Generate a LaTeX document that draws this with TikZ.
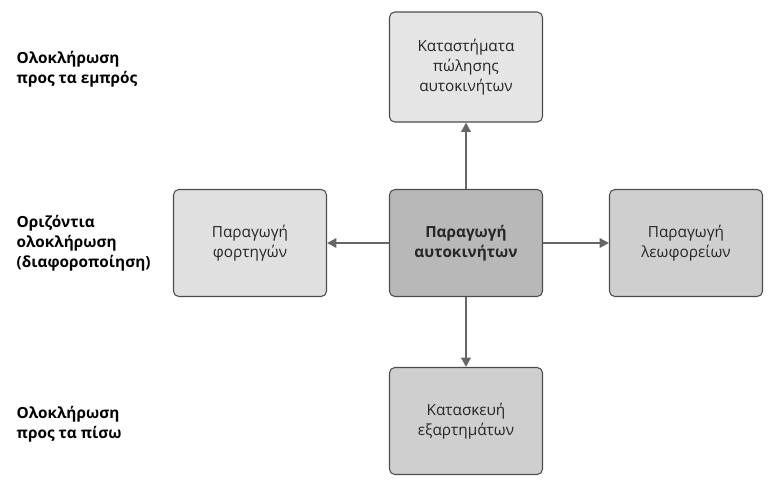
\documentclass[tikz,border=0pt]{standalone}
\usepackage{fontspec}
\setmainfont{Open Sans}
\usetikzlibrary{arrows.meta}
\begin{document}
\begin{tikzpicture}[x=0.75pt,y=-0.75pt,
    box/.style={draw=black!70, rounded corners=4pt, line width=0.8pt, minimum width=153*0.75pt,
      minimum height=107*0.75pt, align=center, font=\fontsize{11.5}{15}\selectfont, text=black!85},
    side/.style={anchor=west, align=left, font=\bfseries\fontsize{11.5}{15}\selectfont},
    link/.style={draw=black!60, line width=2pt, -{Triangle[length=7pt,width=7pt]}}]
  \useasboundingbox (0,0) rectangle (781,483);
  \node[box, fill=black!28, font=\bfseries\fontsize{11.5}{15}\selectfont] (car) at (466,243) {Παραγωγή\\αυτοκινήτων};
  \node[box, fill=black!10, minimum height=110*0.75pt] (shop) at (466,67) {Καταστήματα\\πώλησης\\αυτοκινήτων};
  \node[box, fill=black!12] (truck) at (250,243) {Παραγωγή\\φορτηγών};
  \node[box, fill=black!19] (bus) at (686,243) {Παραγωγή\\λεωφορείων};
  \node[box, fill=black!19] (parts) at (466,421) {Κατασκευή\\εξαρτημάτων};
  \draw[link] (car) -- (shop);
  \draw[link] (car) -- (truck);
  \draw[link] (car) -- (bus);
  \draw[link] (car) -- (parts);
  % labels on the left
  \node[side] (fwd) at (12,69) {Ολοκλήρωση\\προς τα εμπρός};
  \node[side] (hor) at (12,243) {Οριζόντια\\ολοκλήρωση\\(διαφοροποίηση)};
  \node[side] (back) at (12,424) {Ολοκλήρωση\\προς τα πίσω};
\end{tikzpicture}
\end{document}
